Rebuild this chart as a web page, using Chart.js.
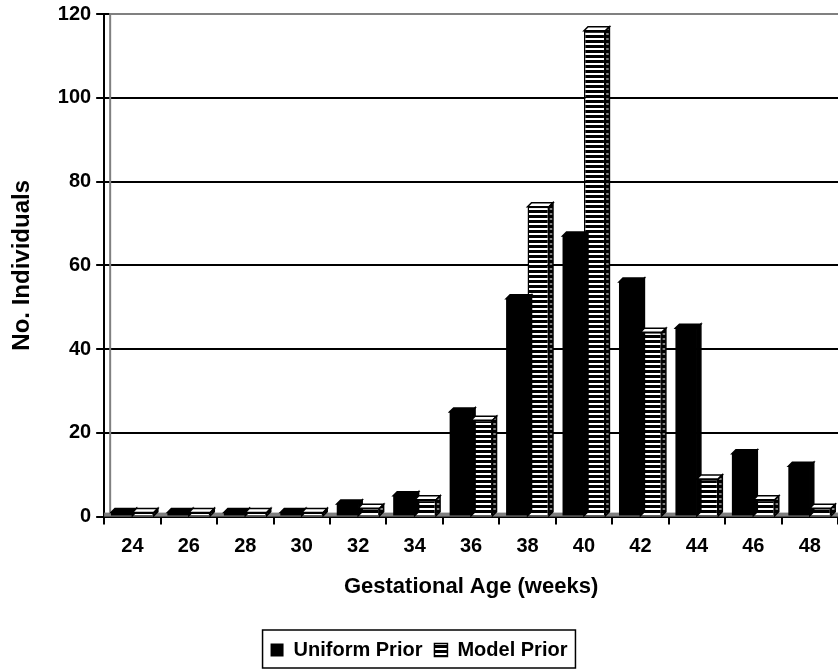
<!DOCTYPE html>
<html>
<head>
<meta charset="utf-8">
<script src="https://cdn.jsdelivr.net/npm/chart.js@4/dist/chart.umd.min.js"></script>
<style>
    html, body { margin: 0; padding: 0; background: #fff; }
</style>
</head>
<body>
<canvas id="myChart" width="838" height="672"></canvas>
<script>
const weeks = ["24", "26", "28", "30", "32", "34", "36", "38", "40", "42", "44", "46", "48"];
const uniformPrior = [1, 1, 1, 1, 3, 5, 25, 52, 67, 56, 45, 15, 12];
const modelPrior = [1, 1, 1, 1, 2, 4, 23, 74, 116, 44, 9, 4, 2];
const yMax = 120;
const yStep = 20;

const fontFamily = "Arial, 'Liberation Sans', sans-serif";

// horizontal stripes for the "Model Prior" bars
function stripes(dark) {
    const c = document.createElement("canvas");
    c.width = 4;
    c.height = 5;
    const g = c.getContext("2d");
    g.fillStyle = dark ? "#808080" : "#fff";
    g.fillRect(0, 0, 4, 5);
    g.fillStyle = "#000";
    g.fillRect(0, 0, 4, 3);
    return g.createPattern(c, "repeat");
}
const ctx = document.getElementById("myChart").getContext("2d");
const stripeFill = stripes(false);
const stripeSide = stripes(true);

const depth = 4;
const bars3d = {
    id: "bars3d",
    beforeDatasetsDraw(chart) {
        const c = chart.ctx, a = chart.chartArea;
        c.save();
        c.fillStyle = "#808080";
        c.fillRect(a.left, a.bottom - depth, a.right - a.left, depth);
        c.strokeStyle = "#808080";
        c.lineWidth = 2;
        c.beginPath();
        c.moveTo(a.left + 6, a.bottom - depth);
        c.lineTo(a.left + 6, a.top);
        c.lineTo(a.right, a.top);
        c.stroke();
        c.restore();
    },
    afterDatasetsDraw(chart) {
        const c = chart.ctx;
        c.save();
        chart.data.datasets.forEach((ds, i) => {
            const meta = chart.getDatasetMeta(i);
            meta.data.forEach(bar => {
                const l = bar.x - bar.width / 2, r = bar.x + bar.width / 2;
                const t = bar.y, b = bar.base;
                c.lineWidth = 1.5;
                c.strokeStyle = "#000";
                // top face
                c.beginPath();
                c.moveTo(l, t);
                c.lineTo(l + depth, t - depth);
                c.lineTo(r + depth, t - depth);
                c.lineTo(r, t);
                c.closePath();
                c.fillStyle = i === 0 ? "#000" : "#fff";
                c.fill();
                c.stroke();
                // side face
                c.beginPath();
                c.moveTo(r, t);
                c.lineTo(r + depth, t - depth);
                c.lineTo(r + depth, b - depth);
                c.lineTo(r, b);
                c.closePath();
                c.fillStyle = i === 0 ? "#000" : stripeSide;
                c.fill();
                c.stroke();
            });
        });
        c.restore();
    }
};

// frame round the legend items only
const legendBox = {
    id: "legendBox",
    afterDraw(chart) {
        const lg = chart.legend;
        const boxes = lg.legendHitBoxes;
        if (!boxes || !boxes.length) return;
        let x0 = Infinity, x1 = -Infinity;
        boxes.forEach(h => {
            x0 = Math.min(x0, h.left);
            x1 = Math.max(x1, h.left + h.width);
        });
        const c = chart.ctx;
        c.save();
        c.strokeStyle = "#000";
        c.lineWidth = 1.5;
        c.strokeRect(x0 - 8, lg.top + 2, x1 - x0 + 16, lg.height - 4);
        c.restore();
    }
};

const inputs = {
    labels: weeks,
    datasets: [{
        label: "Uniform Prior",
        backgroundColor: "#000",
        borderColor: "#000",
        borderWidth: 0,
        data: uniformPrior
    }, {
        label: "Model Prior",
        backgroundColor: stripeFill,
        borderColor: "#000",
        borderWidth: 1.5,
        data: modelPrior
    }]
};

const tickFont = { family: fontFamily, size: 20, weight: "bold" };

const config = {
    type: "bar",
    data: inputs,
    plugins: [bars3d, legendBox],
    options: {
        responsive: false,
        animation: false,
        layout: { padding: { top: 1, right: 0, left: 0, bottom: 2 } },
        datasets: {
            bar: { categoryPercentage: 0.76, barPercentage: 1 }
        },
        scales: {
            x: {
                grid: {
                    drawOnChartArea: false,
                    drawTicks: true,
                    tickLength: 8,
                    offset: true,
                    color: "#000",
                    lineWidth: 2
                },
                border: { color: "#000", width: 2 },
                ticks: { color: "#000", font: tickFont, padding: 10 },
                title: {
                    display: true,
                    text: "Gestational Age (weeks)",
                    color: "#000",
                    font: { family: fontFamily, size: 22, weight: "bold" },
                    padding: { top: 5, bottom: 28 }
                }
            },
            y: {
                min: 0,
                max: yMax,
                ticks: {
                    stepSize: yStep,
                    color: "#000",
                    font: { family: fontFamily, size: 20, weight: "bold", lineHeight: 0.9 },
                    padding: 5
                },
                grid: { color: "#000", lineWidth: 2, tickLength: 8 },
                border: { color: "#000", width: 2 },
                title: {
                    display: true,
                    text: "No. Individuals",
                    color: "#000",
                    font: { family: fontFamily, size: 24, weight: "bold" },
                    padding: { top: 8, bottom: 16 }
                }
            }
        },
        plugins: {
            tooltip: { enabled: false },
            legend: {
                position: "bottom",
                labels: {
                    color: "#000",
                    boxWidth: 13,
                    boxHeight: 13,
                    padding: 12,
                    font: { family: fontFamily, size: 20, weight: "bold" }
                }
            }
        }
    }
};

var myChart = new Chart(ctx, config);
</script>
</body>
</html>
